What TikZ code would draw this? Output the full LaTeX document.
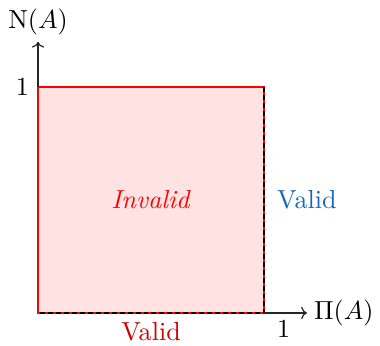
\documentclass[tikz,border=0pt,11pt]{standalone}
\usepackage{xcolor}
\definecolor{ValidBlue}{HTML}{1565C0}
\definecolor{ValidRed}{HTML}{CC0000}
\definecolor{RegionRed}{HTML}{FF0000}
\usepackage{tikz}
\usetikzlibrary{calc, positioning, arrows.meta}

\begin{document}
\begin{tikzpicture}[
  every node/.style = {scale=1.2},
  axis/.style   = {->, semithick, color=black!85},
  region/.style = {draw=RegionRed, thick, fill=RegionRed!11},
  edge/.style   = {dash pattern=on 2.5pt off 1.5pt, thick, color=black},
  lbl/.style    = {inner sep=2pt}
]
  \useasboundingbox (-0.673,-0.584) rectangle (6.053,5.540);

  % Corners of the unit square
  \coordinate (O)  at (0,0);
  \coordinate (X1) at (4,0);
  \coordinate (Y1) at (0,4);
  \coordinate (C)  at (4,4);
  \coordinate (xend) at (4.76,0);
  \coordinate (yend) at (0,4.80);

  % Invalid region
  \draw[region] (O) rectangle (C);

  % Valid edges
  \draw[edge] (C) -- (X1) -- (O);

  % Axes
  \draw[axis] (X1) -- (xend);
  \draw[axis] (Y1) -- (yend);

  % Axis labels
  \node[lbl, right=1pt of xend] (pi) {$\Pi(A)$};
  \node[lbl, above=1pt of yend] (nu) {$\mathrm{N}(A)$};
  \node[lbl, left=2pt of Y1] (one-y) {1};
  \node[lbl, below right=1pt and 4pt of X1] (one-x) {1};

  % Region labels
  \node[text=RegionRed] (inv) at (2,2) {\textit{Invalid}};
  \node[lbl, text=ValidBlue, right=4pt of $(X1)!0.5!(C)$] (vr) {Valid};
  \node[lbl, text=ValidRed, below=2pt of $(O)!0.5!(X1)$] (vb) {Valid};
\end{tikzpicture}
\end{document}
